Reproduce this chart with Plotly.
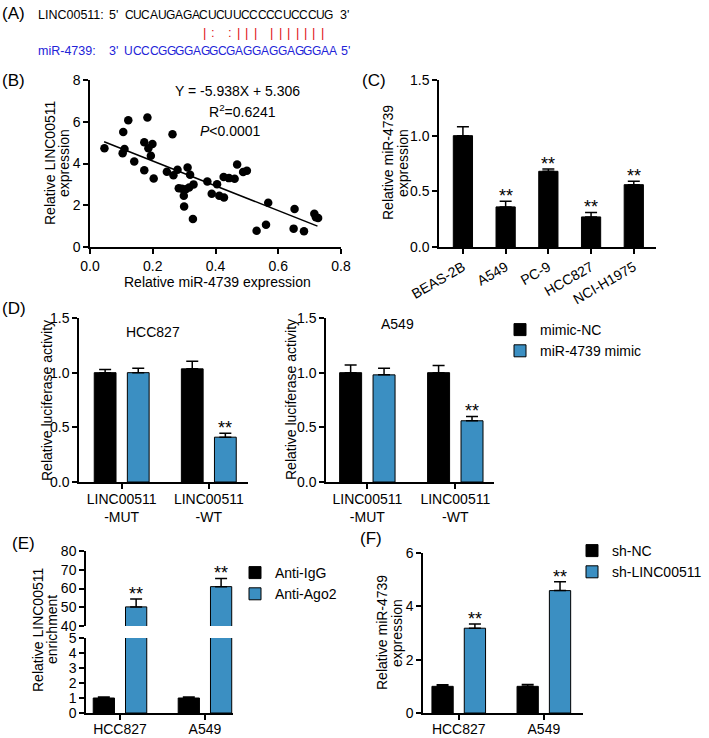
import plotly.graph_objects as go

W, H = 709, 738
FONT = "Liberation Sans, Arial, sans-serif"
BLUE = "#3b8fc2"
RED = "#e0141c"
SEQ_BLUE = "#2323d8"

# (A) sequence alignment
linc_seq = "CUCAUGAGACUCUUCCCCCUCCCUG"
mir_seq = "UCCCGGGGAGGCGAGGAGGAGGGAA"
pairing = " " * 9 + "|: :||| |||||||" + " "

# (B) correlation
mir_x = [0.046, 0.106, 0.122, 0.110, 0.104, 0.141, 0.183, 0.173, 0.199, 0.186,
         0.194, 0.173, 0.203, 0.263, 0.245, 0.266, 0.279, 0.311, 0.319, 0.283,
         0.293, 0.305, 0.316, 0.330, 0.299, 0.300, 0.328, 0.374, 0.405, 0.388,
         0.412, 0.427, 0.426, 0.443, 0.461, 0.469, 0.488, 0.500, 0.531, 0.561,
         0.568, 0.652, 0.649, 0.682, 0.715, 0.720, 0.727]
linc_y = [4.73, 5.51, 6.07, 4.69, 4.49, 4.10, 6.20, 5.02, 4.94, 4.73,
          4.37, 3.68, 3.28, 5.40, 3.60, 3.44, 3.70, 3.81, 3.46, 2.82,
          2.79, 2.77, 2.85, 3.00, 2.45, 1.94, 1.34, 3.14, 3.01, 2.55,
          2.45, 2.37, 3.35, 3.30, 3.27, 3.95, 3.59, 3.65, 0.78, 1.07,
          2.12, 1.82, 0.88, 0.75, 1.59, 1.43, 1.39]
fit_x = [0.045, 0.725]
fit_y = [5.04, 1.00]

# (C) cell lines
cell_lines = ["BEAS-2B", "A549", "PC-9", "HCC827", "NCI-H1975"]
c_vals = [1.00, 0.36, 0.68, 0.27, 0.56]
c_err = [0.08, 0.05, 0.02, 0.04, 0.03]
c_sig = ["", "**", "**", "**", "**"]

# (D) luciferase
constructs = ["LINC00511-MUT", "LINC00511-WT"]
construct_ticks = ["LINC00511<br>-MUT", "LINC00511<br>-WT"]
d_hcc_nc = [1.00, 1.035]
d_hcc_nc_err = [0.03, 0.07]
d_hcc_mimic = [1.00, 0.41]
d_hcc_mimic_err = [0.04, 0.035]
d_a549_nc = [1.00, 1.00]
d_a549_nc_err = [0.07, 0.065]
d_a549_mimic = [0.98, 0.56]
d_a549_mimic_err = [0.06, 0.04]
d_sig = ["", "**"]

# (E) RIP
e_cells = ["HCC827", "A549"]
e_igg = [1.00, 1.00]
e_igg_err = [0.06, 0.06]
e_ago2 = [50.2, 61.0]
e_ago2_err = [4.2, 4.4]
e_sig = ["**", "**"]

# (F) knockdown
f_cells = ["HCC827", "A549"]
f_nc = [1.00, 1.00]
f_nc_err = [0.06, 0.07]
f_sh = [3.18, 4.59]
f_sh_err = [0.16, 0.33]
f_sig = ["**", "**"]

BW = 0.25   # bar width (category units) for grouped panels
SEP = 0.19  # half distance between grouped bar centres


def px(x):
    return x / W


def py(y):
    return 1 - y / H


def dom_x(a, b):
    return [a / W, b / W]


def dom_y(top, bottom):
    return [1 - bottom / H, 1 - top / H]


def err(arr):
    return dict(type="data", array=arr, arrayminus=[0] * len(arr), symmetric=False,
                color="black", thickness=1.5, width=6)


fig = go.Figure()

# ---- B
fig.add_trace(go.Scatter(x=mir_x, y=linc_y, mode="markers", cliponaxis=False,
                         marker=dict(size=8.5, color="black"), showlegend=False,
                         xaxis="x", yaxis="y"))
fig.add_trace(go.Scatter(x=fit_x, y=fit_y, mode="lines", line=dict(color="black", width=1.5),
                         showlegend=False, xaxis="x", yaxis="y"))

# ---- C
fig.add_trace(go.Bar(x=cell_lines, y=c_vals, error_y=err(c_err), width=0.45,
                     marker=dict(color="black", line=dict(color="black", width=1)),
                     showlegend=False, xaxis="x2", yaxis="y2"))


def pair(xs, a, a_err, b, b_err, xa, ya, names, legend=None, show=False, err_a=True, err_b=True):
    fig.add_trace(go.Bar(x=xs, y=a, error_y=err(a_err) if err_a else None, width=BW,
                         offset=-SEP - BW / 2, name=names[0], legend=legend, showlegend=show,
                         marker=dict(color="black", line=dict(color="black", width=1)),
                         xaxis=xa, yaxis=ya))
    fig.add_trace(go.Bar(x=xs, y=b, error_y=err(b_err) if err_b else None, width=BW,
                         offset=SEP - BW / 2, name=names[1], legend=legend, showlegend=show,
                         marker=dict(color=BLUE, line=dict(color="black", width=1)),
                         xaxis=xa, yaxis=ya))


# ---- D
pair(constructs, d_hcc_nc, d_hcc_nc_err, d_hcc_mimic, d_hcc_mimic_err, "x3", "y3",
     ["mimic-NC", "miR-4739 mimic"], legend="legend", show=True)
pair(constructs, d_a549_nc, d_a549_nc_err, d_a549_mimic, d_a549_mimic_err, "x4", "y4",
     ["mimic-NC", "miR-4739 mimic"])

# ---- E (broken axis: bottom y5, top y6)
pair(e_cells, e_igg, e_igg_err, e_ago2, e_ago2_err, "x5", "y5",
     ["Anti-IgG", "Anti-Ago2"], legend="legend2", show=True, err_b=False)
pair(e_cells, e_igg, e_igg_err, e_ago2, e_ago2_err, "x5", "y6",
     ["Anti-IgG", "Anti-Ago2"], err_a=False)

# ---- F
pair(f_cells, f_nc, f_nc_err, f_sh, f_sh_err, "x6", "y7",
     ["sh-NC", "sh-LINC00511"], legend="legend3", show=True)

ax = dict(showline=True, linecolor="black", linewidth=1.5, ticks="outside", ticklen=5,
          tickwidth=1.5, tickcolor="black", showgrid=False, zeroline=False,
          tickfont=dict(size=14, color="black", family=FONT))

fig.update_layout(
    xaxis=dict(ax, domain=dom_x(90, 341), range=[0, 0.8], tickvals=[0, 0.2, 0.4, 0.6, 0.8],
               tickformat=".1f", anchor="y"),
    yaxis=dict(ax, domain=dom_y(80, 247), range=[0, 8.001], tickvals=[0, 2, 4, 6, 8], anchor="x"),
    xaxis2=dict(ax, domain=dom_x(439, 656), range=[-0.56, 4.52], tickangle=-30, anchor="y2"),
    yaxis2=dict(ax, domain=dom_y(80, 247), range=[0, 1.5001], tickvals=[0, 0.5, 1.0, 1.5],
                tickformat=".1f", anchor="x2"),
    xaxis3=dict(ax, domain=dom_x(79, 248), range=[-0.49, 1.45], tickvals=constructs,
                ticktext=construct_ticks, ticklabelstandoff=-2, anchor="y3"),
    yaxis3=dict(ax, domain=dom_y(318, 482), range=[0, 1.5001], tickvals=[0, 0.5, 1.0, 1.5],
                tickformat=".1f", anchor="x3"),
    xaxis4=dict(ax, domain=dom_x(326, 494), range=[-0.47, 1.44], tickvals=constructs,
                ticktext=construct_ticks, ticklabelstandoff=-2, anchor="y4"),
    yaxis4=dict(ax, domain=dom_y(318, 482), range=[0, 1.5001], tickvals=[0, 0.5, 1.0, 1.5],
                tickformat=".1f", anchor="x4"),
    xaxis5=dict(ax, domain=dom_x(86, 233), range=[-0.40, 1.33], ticklabelstandoff=-3, anchor="y5"),
    yaxis5=dict(ax, domain=dom_y(638, 713), range=[0, 5.001], tickvals=[0, 1, 2, 3, 4, 5], anchor="x5"),
    yaxis6=dict(ax, domain=dom_y(551, 626), range=[40, 80.01], tickvals=[40, 50, 60, 70, 80], anchor="x5"),
    xaxis6=dict(ax, domain=dom_x(423, 583), range=[-0.42, 1.46], ticklabelstandoff=-3, anchor="y7"),
    yaxis7=dict(ax, domain=dom_y(553, 713), range=[0, 6.001], tickvals=[0, 2, 4, 6], anchor="x6"),
)

leg = dict(font=dict(size=14, color="black", family=FONT), bgcolor="rgba(0,0,0,0)",
           xanchor="left", yanchor="top", tracegroupgap=0, itemwidth=30)
fig.update_layout(
    legend=dict(leg, x=px(500), y=py(314)),
    legend2=dict(leg, x=px(235), y=py(557)),
    legend3=dict(leg, x=px(572), y=py(535)),
)

ann = []


def text(x, y, s, size=14, color="black", xanchor="center", angle=0, **kw):
    ann.append(dict(x=px(x), y=py(y), xref="paper", yref="paper", text=s, showarrow=False,
                    xanchor=xanchor, yanchor="middle", textangle=angle,
                    font=dict(size=size, color=color, family=FONT), **kw))


# (A)
text(0, 14, "(A)", size=17, xanchor="left")
text(36, 15, "LINC00511:", size=12.5, xanchor="left")
text(36, 51, "miR-4739:", size=12.5, color=SEQ_BLUE, xanchor="left")
text(113, 15, "5'", size=12.5)
text(113, 51, "3'", size=12.5, color=SEQ_BLUE)
for i, ch in enumerate(linc_seq):
    text(129 + 8.33 * i, 15, ch, size=12)
for i, ch in enumerate(mir_seq):
    text(128.5 + 8.53 * i, 51, ch, size=12, color=SEQ_BLUE)
for i, ch in enumerate(pairing):
    if ch != " ":
        text(129 + 8.4 * i, 33, ch, size=13, color=RED)
text(344, 15, "3'", size=12.5)
text(345, 51, "5'", size=12.5, color=SEQ_BLUE)

# panel labels
text(0, 80, "(B)", size=17, xanchor="left")
text(360, 80, "(C)", size=17, xanchor="left")
text(0, 308, "(D)", size=17, xanchor="left")
text(10, 543, "(E)", size=17, xanchor="left")
text(358, 538, "(F)", size=17, xanchor="left")

# B texts
text(238, 91, "Y = -5.938X + 5.306")
text(242, 111, "R<sup>2</sup>=0.6241")
text(230, 131, "<i>P</i><0.0001")
text(217, 282, "Relative miR-4739 expression")
text(50, 163, "Relative LINC00511", angle=-90)
text(64, 163, "expression", angle=-90)

# C
text(388, 163, "Relative miR-4739", angle=-90)
text(403, 163, "expression", angle=-90)

# D
text(47, 400, "Relative luciferase activity", angle=-90)
text(291, 400, "Relative luciferase activity", angle=-90)
text(153, 332, "HCC827")
text(397, 324, "A549")

# E
text(38, 630, "Relative LINC00511", angle=-90)
text(52, 630, "enrichment", angle=-90)

# F
text(382, 633, "Relative miR-4739", angle=-90)
text(397, 633, "expression", angle=-90)


def stars(vals, errs, sig, xref, yref, shift=0.0):
    for i, (v, e, s) in enumerate(zip(vals, errs, sig)):
        if s:
            ann.append(dict(x=i + shift, y=v + e, xref=xref, yref=yref, text=s, showarrow=False,
                            yanchor="bottom", yshift=-7,
                            font=dict(size=18, color="black", family=FONT)))


stars(c_vals, c_err, c_sig, "x2", "y2")
stars(d_hcc_mimic, d_hcc_mimic_err, d_sig, "x3", "y3", SEP)
stars(d_a549_mimic, d_a549_mimic_err, d_sig, "x4", "y4", SEP)
stars(e_ago2, e_ago2_err, e_sig, "x5", "y6", SEP)
stars(f_sh, f_sh_err, f_sig, "x6", "y7", SEP)

fig.update_layout(
    width=W, height=H, margin=dict(l=0, r=0, t=0, b=0, autoexpand=False),
    paper_bgcolor="white", plot_bgcolor="white", barmode="overlay",
    font=dict(family=FONT, size=14, color="black"), annotations=ann,
)

# the page body has a default 8px margin; drop it so the figure fills the window
fig.write_html("out.html", config={"displayModeBar": False},
               post_script="document.body.style.margin='0px';")
